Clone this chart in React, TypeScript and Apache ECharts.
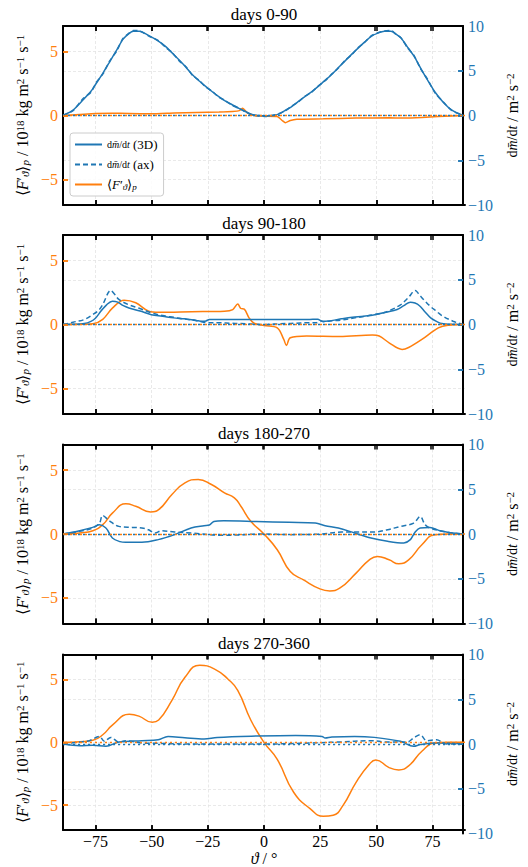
import React, { useEffect, useRef } from "react";
import * as echarts from "echarts";

const PANEL_TITLES = ["days 0-90", "days 90-180", "days 180-270", "days 270-360"];
const X_TICKS = [-75, -50, -25, 0, 25, 50, 75];
const LEFT_TICKS = [-5, 0, 5];
const RIGHT_TICKS = [-10, -5, 0, 5, 10];
const RIGHT_INNER_TICKS = [-5, 0, 5];
const SERIES_NAMES = ["dmdt3D", "dmdtAx", "Ftheta"];

// panel 1 (days 0-90): [theta, value]
const P1_3D = [[-89.5,0],[-85,0.6],[-80.5,1.75],[-77,2.7],[-74.6,3.6],[-71.5,4.8],[-68.6,6.0],[-65.5,7.3],[-62.7,8.5],[-60,9.15],[-58,9.4],[-55.3,9.4],[-50.9,8.9],[-47,8.35],[-43.5,7.7],[-40.5,6.95],[-37.5,6.2],[-34.5,5.4],[-31.6,4.55],[-28.5,3.85],[-25.7,3.25],[-22.7,2.65],[-19.8,2.1],[-16.8,1.6],[-13.8,1.2],[-10.8,0.8],[-7.9,0.45],[-5,0.12],[-2,0.0],[1,-0.05],[4,0.0],[6.9,0.15],[9.8,0.55],[12.8,1.0],[15.7,1.55],[18.7,2.1],[21.7,2.65],[24.7,3.25],[27.6,3.9],[30.6,4.55],[33.5,5.3],[36.5,6.05],[39.5,6.8],[42.4,7.5],[45.4,8.2],[48.4,8.85],[51.4,9.2],[54.3,9.4],[57.2,9.4],[59.5,9.1],[61.7,8.65],[64.5,7.7],[67.6,6.6],[70.5,5.3],[73.5,4.0],[77,2.6],[80.9,1.4],[84.5,0.6],[89.5,0]];
const P1_AX = [[-89.5,0],[-85,0.55],[-80.5,1.9],[-77,2.6],[-74.6,3.7],[-71.5,4.7],[-68.6,6.1],[-65.5,7.2],[-62.7,8.6],[-60,9.2],[-58,9.5],[-55.3,9.45],[-50.9,8.85],[-47,8.4],[-43.5,7.6],[-40.5,7.0],[-37.5,6.1],[-34.5,5.45],[-31.6,4.5],[-28.5,3.9],[-25.7,3.2],[-22.7,2.7],[-19.8,2.05],[-16.8,1.65],[-13.8,1.15],[-10.8,0.8],[-7.9,0.4],[-5,0.1],[-2,-0.05],[1,-0.1],[4,0.0],[6.9,0.2],[9.8,0.5],[12.8,1.05],[15.7,1.5],[18.7,2.15],[21.7,2.6],[24.7,3.3],[27.6,3.85],[30.6,4.6],[33.5,5.25],[36.5,6.1],[39.5,6.75],[42.4,7.55],[45.4,8.15],[48.4,8.9],[51.4,9.25],[54.3,9.45],[57.2,9.5],[59.5,9.05],[61.7,8.7],[64.5,7.6],[67.6,6.7],[70.5,5.2],[73.5,4.1],[77,2.5],[80.9,1.45],[84.5,0.55],[89.5,0]];
const P1_F = [[-89.5,0],[-82,0.08],[-75,0.15],[-68,0.18],[-60,0.16],[-50,0.13],[-40,0.2],[-30,0.24],[-20,0.28],[-14,0.32],[-11,0.38],[-9.5,0.57],[-7.3,0.18],[-4.4,0],[0,-0.05],[5.9,-0.08],[8.1,-0.39],[9.5,-0.57],[11.7,-0.39],[14.6,-0.29],[26.4,-0.26],[41,-0.2],[55.7,-0.18],[61.5,-0.2],[70.3,-0.16],[77.6,-0.08],[89.5,0]];

// panel 2 (days 90-180)
const P2_3D = [[-89.5,0],[-85,0.02],[-80,0.1],[-77,0.35],[-75,0.7],[-72.5,1.5],[-70,2.2],[-67.4,2.6],[-65,2.5],[-62.5,2.1],[-60,1.85],[-55,1.5],[-50,1.1],[-45,0.93],[-40,0.74],[-35,0.63],[-30,0.45],[-27,0.35],[-25.5,0.4],[-24,0.55],[-20,0.55],[0,0.55],[20,0.55],[24.5,0.6],[26,0.4],[28,0.37],[35,0.63],[40,0.8],[45,0.93],[50,1.1],[55,1.37],[60,1.67],[63,2.1],[65.9,2.5],[68,2.4],[70,2.1],[72.5,1.4],[75,0.74],[78,0.3],[80,0.1],[85,0.02],[89.5,0]];
const P2_AX = [[-89.5,0],[-85,0.26],[-80,0.55],[-76.2,1.1],[-73.5,1.6],[-71.8,2.2],[-68.1,3.8],[-66.5,3.4],[-64.5,2.8],[-60,2.2],[-55.7,1.85],[-50,1.3],[-45,1.0],[-40,0.8],[-35,0.6],[-30,0.45],[-25,0.2],[-20,0.2],[-15,0.15],[-10,0.1],[-5,0.05],[0,0],[5,0.05],[10,0.1],[15,0.15],[20,0.2],[24,0.2],[25.5,0.45],[27,0.3],[30,0.4],[35,0.5],[40,0.7],[45,0.9],[49.8,1.1],[55,1.4],[61.5,2.2],[65,3.0],[68.1,3.8],[70,3.3],[71.8,2.8],[75,2.0],[77.6,1.48],[80,1.0],[85,0.37],[89.5,0]];
const P2_F = [[-89.5,0],[-80,0.02],[-76.2,0.05],[-71.8,0.4],[-67.4,1.3],[-62.3,1.9],[-57.1,1.7],[-51.3,1.04],[-46.9,0.96],[-32.2,1.0],[-17.6,1.04],[-13.9,1.17],[-11.7,1.6],[-10.3,1.25],[-8.8,1.2],[-6.6,0.5],[-4.4,0.1],[0,-0.08],[5.9,-0.26],[8.8,-1.17],[10,-1.64],[11.7,-1.04],[19,-0.9],[33.7,-0.94],[48.3,-0.83],[51.3,-0.9],[55.7,-1.43],[61.5,-1.95],[64.4,-1.8],[70.3,-1.17],[77.6,-0.26],[82,-0.05],[89.5,0]];

// panel 3 (days 180-270)
const P3_3D = [[-89.5,0],[-82,0.37],[-76.2,0.74],[-73.2,1.04],[-70.3,0.67],[-67.4,-0.44],[-64,-0.85],[-61.5,-0.93],[-54.2,-0.93],[-46.9,-0.63],[-39.6,-0.07],[-32.2,0.67],[-26.4,0.93],[-24,1.0],[-22,1.4],[-17.6,1.48],[-2.9,1.4],[11.7,1.3],[23.4,1.22],[27.8,0.93],[33.7,0.67],[41,0.11],[48.3,-0.44],[55.7,-0.81],[63,-1.0],[65.9,-0.63],[68,0.2],[70.3,0.67],[74.7,0.74],[79.1,0.37],[85,0.11],[89.5,0]];
const P3_AX = [[-89.5,0],[-82,0.3],[-76.2,0.67],[-73.2,1.2],[-71.8,2.07],[-68.8,1.48],[-64.5,0.85],[-58.6,0.74],[-54.2,0.67],[-51.3,0.48],[-48.3,0.11],[-45.4,0.37],[-39.6,0.22],[-32.2,0.11],[-17.6,-0.15],[0,0],[11.7,-0.07],[26.4,0],[35,0.22],[41,0.22],[49.8,0.22],[55.7,0.48],[61.5,0.85],[67.4,1.22],[70.3,1.96],[72.5,1.04],[74.7,0.67],[79.1,0.37],[85,0.11],[89.5,0]];
const P3_F = [[-89.5,0],[-82,0.08],[-76.2,0.26],[-71.8,0.73],[-67.4,1.65],[-61.5,2.36],[-57.1,2.17],[-50.5,1.73],[-46.9,1.91],[-41,3.09],[-35.2,4.0],[-29.3,4.27],[-23.4,3.87],[-17.6,3.22],[-13.2,2.83],[-10.3,2.17],[-5.9,1.0],[0,0],[5.9,-1.23],[11.7,-2.93],[17.6,-3.59],[24.9,-4.29],[29.3,-4.45],[33.7,-4.24],[41,-3.06],[46.9,-2.02],[50.5,-1.75],[55.7,-2.02],[60,-2.33],[64.4,-2.02],[70.3,-0.84],[76.2,-0.05],[82,0],[89.5,0]];

// panel 4 (days 270-360)
const P4_3D = [[-89.5,0],[-82,-0.19],[-76.2,-0.15],[-70.3,-0.26],[-64.5,0.22],[-54.2,0.37],[-46.9,0.48],[-42.5,0.85],[-35,0.7],[-26.4,0.56],[-20.5,0.74],[-2.9,0.89],[14.6,0.96],[26.4,0.85],[27.8,0.67],[30.8,0.78],[41,0.85],[49.8,0.74],[61.5,0.3],[67.4,-0.26],[70.3,-0.07],[77.6,0.11],[89.5,0]];
const P4_AX = [[-89.5,0],[-82,0.22],[-77.7,0.37],[-73.2,0.85],[-71,0.3],[-68.1,0.74],[-64.5,0.22],[-61.5,0.37],[-54.2,0.11],[-46.9,0.07],[-32.2,0],[0,0],[33.7,0.22],[48.3,0.37],[55.7,0.22],[64.4,0.22],[67.4,0.67],[70.3,1.04],[73.2,0.37],[77.6,0.48],[82,0],[89.5,0]];
const P4_F = [[-89.5,0],[-82,0.05],[-76.2,0.16],[-71.8,0.6],[-67.4,1.39],[-60,2.23],[-55.7,2.09],[-49.8,1.6],[-46.9,1.78],[-41,3.35],[-35.2,5.18],[-28.6,6.15],[-22,5.84],[-16.1,5.05],[-11.7,4.14],[-5.9,1.78],[0,0],[5.9,-1.36],[13.2,-3.98],[20.5,-5.29],[26.4,-5.89],[30.8,-5.81],[35.2,-5.03],[41,-3.19],[46.9,-1.75],[49.8,-1.41],[55.7,-2.02],[60,-2.2],[64.4,-1.88],[70.3,-0.71],[76.2,-0.05],[82,0],[89.5,0]];

const PANELS = [
  [P1_3D, P1_AX, P1_F],
  [P2_3D, P2_AX, P2_F],
  [P3_3D, P3_AX, P3_F],
  [P4_3D, P4_AX, P4_F],
];

const BLUE = "#1f77b4";
const ORANGE = "#ff7f0e";
const FONT = "Liberation Serif";
const GRID_TOPS = [26, 235, 444.5, 654.5];
const GRID_H = 179;
const GRID_LEFT = 63;
const GRID_RIGHT = 63;
const CHART_W = 528;
const X_MIN = -89.5;
const X_MAX = 89.5;
const L_MIN = -7;
const L_MAX = 7;
const R_MIN = -10;
const R_MAX = 10;
const TICK_PX = 5;

const split = () => ({ show: true, lineStyle: { color: "#e3e3e3", type: [3, 2], width: 0.8 } });
const frame = () => ({ show: true, onZero: false, lineStyle: { color: "#000", width: 2 } });
const ticks = (color: string, values: number[]) => ({
  show: true,
  inside: true,
  length: TICK_PX,
  customValues: values.slice(),
  lineStyle: { color, width: 1.5 },
});

const fmtNum = (v: number) => (v < 0 ? "\u2212" + Math.abs(v) : String(v));

const RICH = {
  i: { fontFamily: FONT, fontStyle: "italic", fontSize: 16, color: "#000" },
  s: { fontFamily: FONT, fontStyle: "italic", fontSize: 11, color: "#000", verticalAlign: "bottom", lineHeight: 14 },
  u: { fontFamily: FONT, fontSize: 11, color: "#000", verticalAlign: "top", lineHeight: 14 },
  n: { fontFamily: FONT, fontSize: 16, color: "#000" },
};

const LEGEND_RICH = {
  f: { fontFamily: FONT, fontSize: 10, color: "#000" },
  fi: { fontFamily: FONT, fontSize: 10, fontStyle: "italic", color: "#000" },
  t: { fontFamily: FONT, fontSize: 13, color: "#000" },
  ti: { fontFamily: FONT, fontSize: 13, fontStyle: "italic", color: "#000" },
  s: { fontFamily: FONT, fontSize: 9, fontStyle: "italic", color: "#000", verticalAlign: "bottom", lineHeight: 12 },
};

const LEGEND_TEXT: Record<string, string> = {
  dmdt3D: "{f|d}{fi|m\u0304}{f|/d}{fi|t}{t| (3D)}",
  dmdtAx: "{f|d}{fi|m\u0304}{f|/d}{fi|t}{t| (ax)}",
  Ftheta: "{t|\u27e8}{ti|F}{t|\u2032}{s|\u03d1}{t|\u27e9}{s|p}",
};

export default function App() {
  const ref = useRef<HTMLDivElement>(null);
  useEffect(() => {
    if (!ref.current) return;
    const chart = echarts.init(ref.current, undefined, { renderer: "svg" });
    const grids: any[] = [];
    const xAxes: any[] = [];
    const yAxes: any[] = [];
    const series: any[] = [];
    const titles: any[] = [];

    // tick lengths in data units (converted from pixels through the grid size)
    const plotW = CHART_W - GRID_LEFT - GRID_RIGHT;
    const dxTick = (TICK_PX * (X_MAX - X_MIN)) / plotW;
    const dyLeft = (TICK_PX * (L_MAX - L_MIN)) / GRID_H;
    const dyRight = (TICK_PX * (R_MAX - R_MIN)) / GRID_H;
    const seg = (a: number[], b: number[], color: string) => [
      { coord: a, lineStyle: { color, type: "solid", width: 1.5 } },
      { coord: b },
    ];
    const orangeTickSegs: any[] = [];
    X_TICKS.forEach((t) => {
      orangeTickSegs.push(seg([t, L_MIN], [t, L_MIN + dyLeft], "#000"));
      orangeTickSegs.push(seg([t, L_MAX], [t, L_MAX - dyLeft], "#000"));
    });
    LEFT_TICKS.forEach((v) => {
      orangeTickSegs.push(seg([X_MIN, v], [X_MIN + dxTick, v], ORANGE));
    });
    const blueTickSegs: any[] = [];
    RIGHT_INNER_TICKS.forEach((v) => {
      blueTickSegs.push(seg([X_MAX, v], [X_MAX - dxTick, v], BLUE));
    });

    PANELS.forEach((panel, i) => {
      const last = i === PANELS.length - 1;
      const gA = 2 * i;
      const gB = 2 * i + 1;
      grids.push({ left: GRID_LEFT, right: GRID_RIGHT, top: GRID_TOPS[i], height: GRID_H, show: false });
      grids.push({ left: GRID_LEFT, right: GRID_RIGHT, top: GRID_TOPS[i], height: GRID_H, show: false });
      titles.push({
        text: PANEL_TITLES[i],
        left: "center",
        top: GRID_TOPS[i] - 20,
        padding: 0,
        textStyle: { fontFamily: FONT, fontSize: 17, fontWeight: "normal", color: "#000" },
      });
      xAxes.push({
        type: "value",
        gridIndex: gA,
        min: X_MIN,
        max: X_MAX,
        position: "bottom",
        axisLine: frame(),
        axisTick: ticks("#000", X_TICKS),
        axisLabel: {
          show: last,
          customValues: X_TICKS.slice(),
          formatter: fmtNum,
          fontFamily: FONT,
          fontSize: 16,
          color: "#000",
          margin: 3,
        },
        splitLine: split(),
        name: last ? "{i|\u03d1}{n| / \u00b0}" : "",
        nameLocation: "middle",
        nameGap: 17,
        nameTextStyle: { fontFamily: FONT, fontSize: 16, color: "#000", rich: RICH, verticalAlign: "top" },
      });
      xAxes.push({
        type: "value",
        gridIndex: gB,
        min: X_MIN,
        max: X_MAX,
        position: "top",
        axisLine: frame(),
        axisTick: ticks("#000", X_TICKS),
        axisLabel: { show: false, customValues: X_TICKS.slice() },
        splitLine: { show: false },
      });
      yAxes.push({
        type: "value",
        gridIndex: gA,
        position: "left",
        min: L_MIN,
        max: L_MAX,
        axisLine: frame(),
        axisTick: ticks(ORANGE, LEFT_TICKS),
        axisLabel: { customValues: LEFT_TICKS.slice(), formatter: fmtNum, fontFamily: FONT, fontSize: 16, color: ORANGE, margin: 5 },
        splitLine: split(),
        name: "{n|\u27e8}{i|F}{n|\u2032}{s|\u03d1}{n|\u27e9}{s|p}{n| / 10}{u|18}{n| kg m}{u|2}{n| s}{u|\u22121}{n| s}{u|\u22121}",
        nameLocation: "middle",
        nameRotate: 90,
        nameGap: 31,
        nameTextStyle: { fontFamily: FONT, fontSize: 16, color: "#000", rich: RICH },
      });
      yAxes.push({
        type: "value",
        gridIndex: gB,
        position: "right",
        min: R_MIN,
        max: R_MAX,
        interval: 5,
        axisLine: frame(),
        axisTick: ticks(BLUE, RIGHT_INNER_TICKS),
        axisLabel: { customValues: RIGHT_TICKS.slice(), formatter: fmtNum, fontFamily: FONT, fontSize: 16, color: BLUE, margin: 5 },
        splitLine: split(),
        name: "{f|d}{fi|m\u0304}{f|/d}{fi|t}{n| / m}{u|2}{n| s}{u|\u22122}",
        nameLocation: "middle",
        nameRotate: 90,
        nameGap: 30,
        nameTextStyle: {
          fontFamily: FONT,
          fontSize: 16,
          color: "#000",
          rich: { ...RICH, f: { fontFamily: FONT, fontSize: 14, color: "#000" }, fi: { fontFamily: FONT, fontSize: 14, fontStyle: "italic", color: "#000" } },
        },
      });
      const [d3, dax, df] = panel;
      const smB = i === 0 ? 0.25 : 0.35;
      const smF = i === 0 ? 0.15 : i === 1 ? 0.35 : 0.5;
      series.push({
        type: "line",
        name: SERIES_NAMES[0],
        xAxisIndex: gB,
        yAxisIndex: gB,
        data: d3,
        showSymbol: false,
        symbol: "none",
        smooth: smB,
        lineStyle: { color: BLUE, width: 1.5 },
        itemStyle: { color: BLUE },
        z: 3,
        markLine: {
          silent: true,
          symbol: "none",
          label: { show: false },
          lineStyle: { color: BLUE, type: "solid", width: 1.5 },
          data: blueTickSegs,
        },
      });
      series.push({
        type: "line",
        name: SERIES_NAMES[1],
        xAxisIndex: gB,
        yAxisIndex: gB,
        data: dax,
        showSymbol: false,
        symbol: "none",
        smooth: smB,
        lineStyle: { color: BLUE, width: 1.5, type: [5, 3] },
        itemStyle: { color: BLUE },
        z: 3,
        markLine: {
          silent: true,
          symbol: "none",
          label: { show: false },
          lineStyle: { color: BLUE, type: [2, 3], width: 1.3 },
          data: [{ yAxis: 0 }],
        },
      });
      series.push({
        type: "line",
        name: SERIES_NAMES[2],
        xAxisIndex: gA,
        yAxisIndex: gA,
        data: df,
        showSymbol: false,
        symbol: "none",
        smooth: smF,
        lineStyle: { color: ORANGE, width: 1.5 },
        itemStyle: { color: ORANGE },
        z: 2,
        markLine: {
          silent: true,
          symbol: "none",
          label: { show: false },
          lineStyle: { color: ORANGE, type: [2, 3], width: 1.3, dashOffset: 2.5 },
          data: [{ yAxis: 0 }, ...orangeTickSegs],
        },
      });
    });

    chart.setOption({
      animation: false,
      backgroundColor: "#fff",
      title: titles,
      grid: grids,
      xAxis: xAxes,
      yAxis: yAxes,
      series,
      legend: {
        show: true,
        orient: "vertical",
        left: 70,
        top: 133,
        itemWidth: 27,
        itemHeight: 10,
        itemGap: 7,
        padding: [5, 6, 5, 4],
        backgroundColor: "rgba(255,255,255,0.85)",
        borderColor: "#cccccc",
        borderWidth: 1,
        borderRadius: 3,
        data: SERIES_NAMES,
        itemStyle: { opacity: 0 },
        formatter: (name: string) => LEGEND_TEXT[name] || name,
        textStyle: { fontFamily: FONT, fontSize: 13, color: "#000", rich: LEGEND_RICH },
        selectedMode: false,
      },
    });
    return () => chart.dispose();
  }, []);
  return <div ref={ref} style={{ position: "absolute", left: 0, top: 0, width: 528, height: 867 }} />;
}
